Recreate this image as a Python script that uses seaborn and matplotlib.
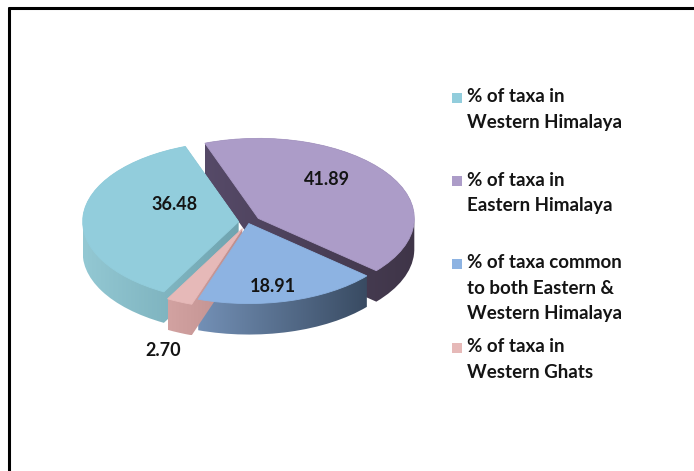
import matplotlib
matplotlib.use("Agg")
import matplotlib.pyplot as plt
import seaborn as sns
import numpy as np
from matplotlib.lines import Line2D
from matplotlib.patches import Rectangle, Polygon
from matplotlib.colors import LinearSegmentedColormap

# ---- data ----
categories = ["% of taxa in\nWestern Himalaya",
              "% of taxa in\nEastern Himalaya",
              "% of taxa common\nto both Eastern &\nWestern Himalaya",
              "% of taxa in\nWestern Ghats"]
values = [36.48, 41.89, 18.91, 2.70]
value_labels = ["36.48", "41.89", "18.91", "2.70"]

# ---- style ----
top_colors = ["#92CDDC", "#AC9CC8", "#8DB3E2", "#E6B9B8"]
side_left = ["#93C8D3", "#564A68", "#7390B6", "#D2A2A1"]
side_right = ["#6FA4B0", "#3F3548", "#394B62", "#BE8E8D"]
explode_frac = [0.06, 0.08, 0.02, 0.09]

sns.set_theme(style="white")
plt.rcParams['font.family'] = ['Lato', 'DejaVu Sans']

W, H = 694, 471
fig = plt.figure(figsize=(W / 100, H / 100), dpi=100)
ax = fig.add_axes([0, 0, 1, 1])

rx, ry = 156.0, 80.0
s = ry / rx
cx, cy_pix = 248.0, 222.0
depth = 31.0
start = 110

def ydat(ypix):
    return (H - ypix) / s

def hull(pts):
    pts = sorted(set(map(tuple, np.round(pts, 4))))
    def cross(o, a, b):
        return (a[0]-o[0])*(b[1]-o[1]) - (a[1]-o[1])*(b[0]-o[0])
    lower, upper = [], []
    for p in pts:
        while len(lower) >= 2 and cross(lower[-2], lower[-1], p) <= 0:
            lower.pop()
        lower.append(p)
    for p in reversed(pts):
        while len(upper) >= 2 and cross(upper[-2], upper[-1], p) <= 0:
            upper.pop()
        upper.append(p)
    return np.array(lower[:-1] + upper[:-1])

# draw order: clockwise from top -> Eastern, common, Ghats, Western
order = [1, 2, 3, 0]
vals = [values[i] for i in order]
ex = [explode_frac[i] * rx for i in order]
tc = [top_colors[i] for i in order]

# top faces and bottom faces from the pie itself
top_w, _ = ax.pie(vals, explode=ex, colors=tc, startangle=start, counterclock=False,
                  center=(cx, ydat(cy_pix)), radius=rx, frame=True,
                  wedgeprops=dict(linewidth=0.6, zorder=10))
for wi, c in zip(top_w, tc):
    wi.set_edgecolor(c)
bot_w, _ = ax.pie(vals, explode=ex, startangle=start, counterclock=False,
                  center=(cx, ydat(cy_pix + depth)), radius=rx, frame=True)
for wi in bot_w:
    wi.set_visible(False)

# sides: convex hull of top & bottom wedge, filled with horizontal gradient
side_z = {1: 2, 0: 3, 2: 4, 3: 5}   # back slices first
for j, idx in enumerate(order):
    p_top = np.vstack(top_w[j].get_path().to_polygons())
    p_bot = np.vstack(bot_w[j].get_path().to_polygons())
    hp = hull(np.vstack([p_top, p_bot]))
    poly = Polygon(hp, closed=True, facecolor='none', edgecolor='none')
    ax.add_patch(poly)
    cmap = LinearSegmentedColormap.from_list("g", [side_left[idx], side_right[idx]])
    x0, x1 = hp[:, 0].min(), hp[:, 0].max()
    y0, y1 = hp[:, 1].min(), hp[:, 1].max()
    grad = np.linspace(0, 1, 256)[None, :]
    im = ax.imshow(grad, extent=[x0, x1, y0, y1], aspect='auto', cmap=cmap,
                   interpolation='bilinear', zorder=side_z[idx])
    im.set_clip_path(poly)

ax.set_aspect('auto')
ax.set_xlim(0, W)
ax.set_ylim(0, H / s)
ax.axis('off')

# data labels (pixel positions)
label_pos = [(175, 205), (327, 180), (273, 287), (163, 351)]
for lab, (px, pyy) in zip(value_labels, label_pos):
    ax.text(px, ydat(pyy), lab, ha='center', va='center', fontsize=13,
            fontweight='bold', color='#141414', zorder=20)

# legend (manual)
leg_y = [97, 180, 263, 347]
line_h = 25.5
for cat, col, y0 in zip(categories, top_colors, leg_y):
    fig.patches.append(Rectangle((452 / W, 1 - (y0 + 5.5) / H), 10 / W, 10 / H,
                                 transform=fig.transFigure, facecolor=col,
                                 edgecolor='none'))
    for j, line in enumerate(cat.split("\n")):
        fig.text(467 / W, 1 - (y0 + j * line_h) / H, line, ha='left', va='center',
                 fontsize=13.5, fontweight='bold', color='#141414')

# chart frame (top and left edges visible)
fig.lines.append(Line2D([9 / W, 1], [1 - 8 / H, 1 - 8 / H], transform=fig.transFigure,
                        color='black', linewidth=2.2))
fig.lines.append(Line2D([9 / W, 9 / W], [0, 1 - 8 / H], transform=fig.transFigure,
                        color='black', linewidth=2.2))

fig.savefig("out.png", dpi=100, facecolor='white')
